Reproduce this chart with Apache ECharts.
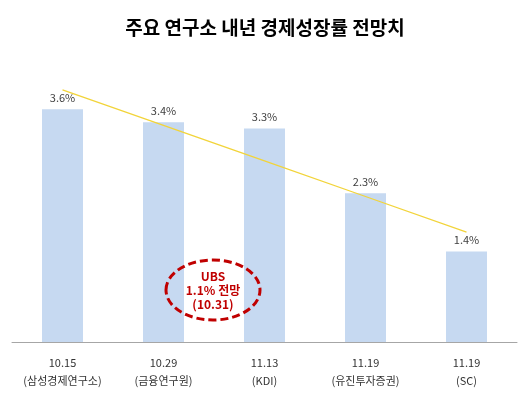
<!DOCTYPE html>
<html>
<head>
<meta charset="utf-8">
<script src="https://cdn.jsdelivr.net/npm/echarts@6/dist/echarts.min.js"></script>
<style>
    html, body { margin: 0; padding: 0; background: #fff; }
    #chart { width: 530px; height: 398px; }
</style>
</head>
<body>
<div id="chart"></div>
<script>
// 날짜 + 기관
var dates = ['10.15', '10.29', '11.13', '11.19', '11.19'];
var orgs = ['(삼성경제연구소)', '(금융연구원)', '(KDI)', '(유진투자증권)', '(SC)'];
// 성장률 전망 (%)
var growth = [3.6, 3.4, 3.3, 2.3, 1.4];
// 추세선
var trend = [3.9, 3.35, 2.8, 2.25, 1.7];

var categories = dates.map(function (d, i) { return d + '\n' + orgs[i]; });

var font = '"Malgun Gothic", "Noto Sans CJK KR", sans-serif';
var myChart = echarts.init(document.getElementById('chart'));
var option = {
    animation: false,
    title: {
        text: '주요 연구소 내년 경제성장률 전망치',
        left: 'center',
        top: 13,
        textStyle: {
            fontFamily: font,
            fontSize: 19,
            fontWeight: 'bold',
            color: '#000'
        }
    },
    grid: {
        left: 12,
        right: 13,
        top: 51,
        bottom: 56
    },
    xAxis: {
        type: 'category',
        data: categories,
        axisTick: { show: false },
        axisLine: { lineStyle: { color: '#a6a6a6', width: 1 } },
        axisLabel: {
            interval: 0,
            margin: 12,
            lineHeight: 18,
            fontFamily: font,
            fontSize: 11,
            color: '#333'
        }
    },
    yAxis: {
        type: 'value',
        min: 0,
        max: 4.5,
        show: false,
        splitLine: { show: false }
    },
    series: [
        {
            name: '전망치',
            type: 'bar',
            data: growth,
            barWidth: 41,
            itemStyle: { color: '#c6d9f1' },
            label: {
                show: true,
                position: 'top',
                distance: 6,
                formatter: '{c}%',
                fontFamily: font,
                fontSize: 11,
                color: '#404040'
            }
        },
        {
            name: '추세',
            type: 'line',
            data: trend,
            symbol: 'none',
            lineStyle: { color: '#f2d43a', width: 1.3 },
            z: 3
        }
    ],
    graphic: [
        {
            type: 'ellipse',
            shape: { cx: 213, cy: 290, rx: 47, ry: 30 },
            style: {
                fill: null,
                stroke: '#c00000',
                lineWidth: 3,
                lineDash: [8, 4]
            },
            z: 10
        },
        {
            type: 'text',
            x: 213,
            y: 290,
            style: {
                text: 'UBS\n1.1% 전망\n(10.31)',
                fill: '#c00000',
                fontFamily: font,
                fontSize: 12,
                fontWeight: 'bold',
                lineHeight: 14,
                align: 'center',
                verticalAlign: 'middle'
            },
            z: 11
        }
    ]
};
myChart.setOption(option);
</script>
</body>
</html>
